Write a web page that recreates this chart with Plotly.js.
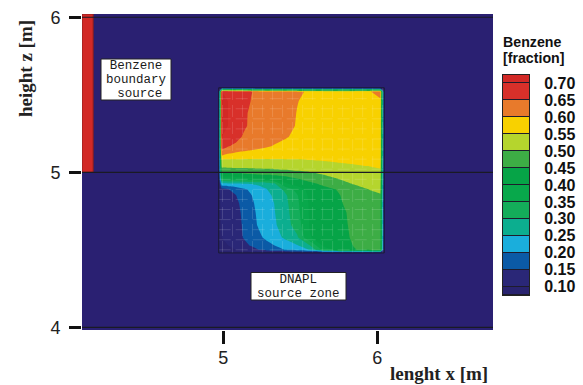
<!DOCTYPE html>
<html>
<head>
<meta charset="utf-8">
<script src="https://cdn.plot.ly/plotly-3.0.1.min.js"></script>
<style>
  html, body { margin: 0; padding: 0; background: #ffffff; }
  #chart { width: 583px; height: 385px; }
</style>
</head>
<body>
<div id="chart"></div>
<script>
// Benzene fraction around a DNAPL source zone, filled contours at 0.05 steps.
const levels = [0.10, 0.15, 0.20, 0.25, 0.30, 0.35, 0.40, 0.45, 0.50, 0.55, 0.60, 0.65, 0.70];
const levelLabels = ['0.10', '0.15', '0.20', '0.25', '0.30', '0.35', '0.40', '0.45', '0.50', '0.55', '0.60', '0.65', '0.70'];
// one colour per band: below 0.10, 0.10-0.15, ..., 0.65-0.70, above 0.70
const bandColors = ['#29236f', '#2a2777', '#0b5aa6', '#1aaedc', '#0cae8f', '#14ad5a', '#08a84b',
                    '#06a447', '#3dad45', '#b5d52d', '#f8d100', '#e87a2b', '#d8302a', '#d22926'];

// sampling grid of the source zone (x = length, z = height, metres)
const zoneX = [4.97, 4.99, 5.03, 5.08, 5.13, 5.18, 5.23, 5.28, 5.33, 5.40, 5.48, 5.56, 5.65, 5.75, 5.85, 5.95, 6.02, 6.045];
const zoneZ = [4.48, 4.50, 4.53, 4.58, 4.66, 4.74, 4.80, 4.85, 4.89, 4.925, 4.96, 5.00, 5.04, 5.08, 5.12, 5.17, 5.23, 5.30, 5.38, 5.46, 5.52, 5.545];
// benzene fraction, one row per zoneZ value (bottom to top)
const benzene = [
  [0.08, 0.08, 0.08, 0.08, 0.08, 0.08, 0.08, 0.08, 0.08, 0.08, 0.08, 0.08, 0.08, 0.08, 0.08, 0.08, 0.08, 0.08],
  [0.08, 0.09, 0.09, 0.10, 0.11, 0.13, 0.15, 0.165, 0.18, 0.20, 0.22, 0.25, 0.365, 0.425, 0.448, 0.46, 0.46, 0.08],
  [0.08, 0.09, 0.10, 0.115, 0.135, 0.155, 0.17, 0.185, 0.20, 0.222, 0.248, 0.298, 0.41, 0.431, 0.452, 0.465, 0.47, 0.08],
  [0.08, 0.10, 0.11, 0.125, 0.152, 0.172, 0.19, 0.21, 0.23, 0.258, 0.292, 0.397, 0.418, 0.438, 0.455, 0.468, 0.472, 0.08],
  [0.08, 0.105, 0.115, 0.13, 0.155, 0.182, 0.205, 0.222, 0.242, 0.275, 0.325, 0.402, 0.42, 0.44, 0.457, 0.468, 0.472, 0.08],
  [0.08, 0.11, 0.12, 0.135, 0.158, 0.185, 0.21, 0.228, 0.247, 0.28, 0.335, 0.404, 0.422, 0.442, 0.458, 0.468, 0.472, 0.08],
  [0.08, 0.115, 0.125, 0.14, 0.162, 0.19, 0.215, 0.232, 0.25, 0.285, 0.34, 0.406, 0.425, 0.446, 0.462, 0.475, 0.482, 0.08],
  [0.08, 0.12, 0.13, 0.148, 0.172, 0.197, 0.222, 0.24, 0.255, 0.29, 0.346, 0.41, 0.43, 0.448, 0.468, 0.485, 0.495, 0.08],
  [0.08, 0.135, 0.148, 0.165, 0.19, 0.21, 0.232, 0.248, 0.27, 0.31, 0.37, 0.416, 0.438, 0.453, 0.478, 0.502, 0.512, 0.08],
  [0.08, 0.235, 0.238, 0.242, 0.246, 0.25, 0.258, 0.27, 0.285, 0.39, 0.42, 0.44, 0.457, 0.48, 0.503, 0.515, 0.52, 0.08],
  [0.08, 0.365, 0.37, 0.377, 0.385, 0.393, 0.402, 0.41, 0.418, 0.43, 0.45, 0.466, 0.485, 0.502, 0.52, 0.53, 0.535, 0.08],
  [0.08, 0.46, 0.462, 0.465, 0.468, 0.471, 0.474, 0.477, 0.48, 0.485, 0.492, 0.498, 0.51, 0.522, 0.532, 0.54, 0.545, 0.08],
  [0.08, 0.512, 0.513, 0.514, 0.515, 0.516, 0.517, 0.518, 0.52, 0.522, 0.526, 0.531, 0.537, 0.543, 0.547, 0.5505, 0.553, 0.08],
  [0.08, 0.545, 0.545, 0.545, 0.545, 0.545, 0.546, 0.546, 0.546, 0.547, 0.548, 0.5505, 0.553, 0.556, 0.558, 0.56, 0.562, 0.08],
  [0.08, 0.62, 0.60, 0.592, 0.587, 0.583, 0.579, 0.576, 0.574, 0.572, 0.57, 0.569, 0.568, 0.567, 0.567, 0.568, 0.57, 0.08],
  [0.08, 0.675, 0.655, 0.64, 0.63, 0.622, 0.614, 0.606, 0.598, 0.592, 0.587, 0.583, 0.58, 0.578, 0.577, 0.577, 0.578, 0.08],
  [0.08, 0.70, 0.69, 0.67, 0.645, 0.632, 0.625, 0.618, 0.612, 0.603, 0.594, 0.588, 0.584, 0.581, 0.58, 0.58, 0.582, 0.08],
  [0.08, 0.71, 0.70, 0.685, 0.66, 0.64, 0.633, 0.626, 0.618, 0.609, 0.598, 0.591, 0.586, 0.583, 0.582, 0.582, 0.585, 0.08],
  [0.08, 0.71, 0.70, 0.685, 0.66, 0.642, 0.635, 0.628, 0.62, 0.611, 0.599, 0.592, 0.587, 0.584, 0.583, 0.584, 0.588, 0.08],
  [0.08, 0.71, 0.70, 0.69, 0.672, 0.649, 0.64, 0.632, 0.624, 0.614, 0.601, 0.593, 0.588, 0.585, 0.585, 0.588, 0.595, 0.08],
  [0.08, 0.70, 0.69, 0.68, 0.668, 0.652, 0.64, 0.632, 0.624, 0.615, 0.605, 0.596, 0.59, 0.588, 0.59, 0.598, 0.612, 0.08],
  [0.08, 0.08, 0.08, 0.08, 0.08, 0.08, 0.08, 0.08, 0.08, 0.08, 0.08, 0.08, 0.08, 0.08, 0.08, 0.08, 0.08, 0.08]
];

// benzene boundary source strip on the left wall
const sourceX = [4.0825, 4.155];
const sourceZ = [5.0, 6.021];
const sourceValue = 0.72;

// finite element mesh lines inside the zone
const meshX = [4.995, 5.06, 5.125, 5.19, 5.255, 5.32, 5.385, 5.45, 5.515, 5.58, 5.645, 5.71, 5.775, 5.84, 5.905, 5.97, 6.035];
const meshZ = [4.50, 4.565, 4.63, 4.695, 4.76, 4.825, 4.89, 4.955, 5.02, 5.085, 5.15, 5.215, 5.28, 5.345, 5.41, 5.475, 5.53];

const xTicks = [5, 6];
const zTicks = [4, 5, 6];

// ---------- helpers ----------
const W = 583, H = 385;
const M = { l: 82, r: 50, t: 14, b: 55 };
const plotW = W - M.l - M.r, plotH = H - M.t - M.b;
const paperX = p => (p - M.l) / plotW;
const paperY = p => (H - M.b - p) / plotH;

// stepped colour scale: fraction k/13 sits in the middle of band k
const nB = bandColors.length;
const stepScale = [];
bandColors.forEach((c, k) => {
  const lo = k === 0 ? 0 : (k - 0.5) / (nB - 1);
  const hi = k === nB - 1 ? 1 : (k + 0.5) / (nB - 1);
  stepScale.push([lo, c], [hi, c]);
});
const bandOf = v => {
  let k = 0;
  levels.forEach(l => { if (v >= l) k++; });
  return k;
};

const step = levels[1] - levels[0];
const barEdges = [levels[0] - step / 2].concat(levels, [levels[levels.length - 1] + step / 2]);
const barIndex = bandColors.map((c, k) => [k]);

// mesh polylines separated by nulls
const mx = [], mz = [];
meshX.forEach(x => { mx.push(x, x, null); mz.push(zoneZ[0], zoneZ[zoneZ.length - 1], null); });
meshZ.forEach(z => { mx.push(zoneX[0], zoneX[zoneX.length - 1], null); mz.push(z, z, null); });

const traces = [
  {
    type: 'contour',
    x: zoneX, y: zoneZ, z: benzene,
    autocontour: false,
    contours: { start: levels[0], end: levels[levels.length - 1], size: step, coloring: 'fill', showlines: false },
    line: { width: 0, smoothing: 0 },
    colorscale: stepScale,
    showscale: false,
    hoverinfo: 'skip'
  },
  {
    type: 'scatter', mode: 'lines',
    x: mx, y: mz,
    line: { color: 'rgba(255,255,255,0.14)', width: 1, dash: '12px,5px' },
    connectgaps: false,
    hoverinfo: 'skip', showlegend: false
  },
  {
    type: 'scatter', mode: 'lines', fill: 'toself',
    x: [sourceX[0], sourceX[1], sourceX[1], sourceX[0], sourceX[0]],
    y: [sourceZ[0], sourceZ[0], sourceZ[1], sourceZ[1], sourceZ[0]],
    fillcolor: bandColors[bandOf(sourceValue)],
    line: { color: '#8a1e1e', width: 1 },
    hoverinfo: 'skip', showlegend: false
  },
  {
    type: 'heatmap',
    x: [0, 1], y: barEdges, z: barIndex,
    zmin: 0, zmax: nB - 1,
    colorscale: stepScale, showscale: false,
    ygap: 1,
    xaxis: 'x2', yaxis: 'y2',
    hoverinfo: 'skip'
  }
];

const shapes = [
  { type: 'rect', xref: 'x domain', yref: 'y domain', x0: 0, x1: 1, y0: 0, y1: 1,
    fillcolor: '#2a2072', line: { width: 0 }, layer: 'below' },
  { type: 'rect', xref: 'x', yref: 'y',
    x0: zoneX[0], x1: zoneX[zoneX.length - 1], y0: zoneZ[0], y1: zoneZ[zoneZ.length - 1],
    line: { color: '#1b1a33', width: 1 }, layer: 'above' }
];
zTicks.forEach(v => shapes.push({
  type: 'line', xref: 'x domain', yref: 'y', x0: 0, x1: 1, y0: v, y1: v,
  line: { color: '#1a1a24', width: 1.2 }, layer: 'above'
}));
// label boxes
shapes.push(
  { type: 'rect', xref: 'paper', yref: 'paper', x0: paperX(101), x1: paperX(171), y0: paperY(100), y1: paperY(59),
    fillcolor: '#ffffff', line: { color: '#222222', width: 1 }, layer: 'above' },
  { type: 'rect', xref: 'paper', yref: 'paper', x0: paperX(251), x1: paperX(346), y0: paperY(300), y1: paperY(272.5),
    fillcolor: '#ffffff', line: { color: '#222222', width: 1 }, layer: 'above' }
);

// stacked lines: the base size sets the line pitch (1.3 em), the span sets the glyph size
const stack = (lines, glyphPx) =>
  lines.map(s => '<span style="font-size:' + glyphPx + 'px">' + s + '</span>').join('<br>');

const mono = { family: 'Liberation Mono, DejaVu Sans Mono, monospace', size: 10.9, color: '#1a1a1a' };
const serifB = { family: 'Liberation Serif, DejaVu Serif, serif', size: 19, color: '#222222', weight: 'bold' };
const sansB = { family: 'Liberation Sans, Arial, sans-serif', size: 12.1, color: '#111111', weight: 'bold' };
const note = (text, x, y, font, extra) => Object.assign({
  text, x: paperX(x), y: paperY(y), xref: 'paper', yref: 'paper',
  showarrow: false, xanchor: 'center', yanchor: 'middle', align: 'center', font
}, extra || {});

const annotations = [
  note('height z [m]', 25, 69, serifB, { textangle: -90 }),
  note('lenght x [m]', 490, 385.5, serifB, { xanchor: 'right', yanchor: 'bottom' }),
  note(stack(['Benzene', '[fraction]'], 14.2), 501, 50, sansB, { xanchor: 'left', align: 'left' }),
  note(stack(['Benzene', 'boundary', '\u00a0source'], 12.5), 136, 80, mono),
  note(stack(['DNAPL', 'source zone'], 12.5), 298.5, 286.5, mono)
];

const tickFont = { family: 'Liberation Sans, Arial, sans-serif', size: 18, color: '#222222' };

const layout = {
  width: W, height: H,
  margin: M,
  paper_bgcolor: '#ffffff',
  plot_bgcolor: '#1e1c2c',
  showlegend: false,
  font: { family: 'Liberation Sans, Arial, sans-serif' },
  xaxis: {
    domain: [0, (493 - M.l) / plotW],
    range: [4.0825, 6.7513],
    tickvals: xTicks, ticktext: xTicks.map(String),
    ticks: 'outside', ticklen: 13, tickwidth: 3, tickcolor: '#111111',
    ticklabelstandoff: -2,
    tickfont: tickFont,
    showgrid: false, zeroline: false, showline: false
  },
  yaxis: {
    range: [3.983, 6.021],
    tickvals: zTicks, ticktext: zTicks.map(String),
    ticks: 'outside', ticklen: 12, tickwidth: 3, tickcolor: '#111111',
    ticklabelstandoff: 5,
    tickfont: tickFont,
    showgrid: false, zeroline: false, showline: false
  },
  xaxis2: {
    domain: [paperX(503), paperX(529)],
    range: [0, 1], anchor: 'y2',
    showticklabels: false, ticks: '', showgrid: false, zeroline: false,
    showline: true, mirror: true, linecolor: '#222222', linewidth: 1
  },
  yaxis2: {
    domain: [paperY(295), paperY(75)],
    range: [barEdges[0], barEdges[barEdges.length - 1]],
    anchor: 'x2', side: 'right',
    tickvals: levels, ticktext: levelLabels,
    ticks: '', ticklabelstandoff: 11,
    tickfont: { family: 'Liberation Sans, Arial, sans-serif', size: 16, color: '#111111', weight: 'bold' },
    showgrid: false, zeroline: false,
    showline: true, mirror: true, linecolor: '#222222', linewidth: 1
  },
  shapes, annotations
};

Plotly.newPlot('chart', traces, layout, { staticPlot: true, displayModeBar: false });
</script>
</body>
</html>
